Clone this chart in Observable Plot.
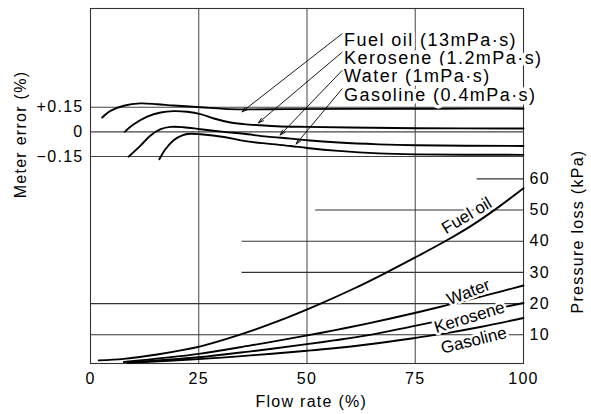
<!DOCTYPE html>
<html><head><meta charset="utf-8">
<script src="https://cdn.jsdelivr.net/npm/d3@7"></script>
<script src="https://cdn.jsdelivr.net/npm/@observablehq/plot@0.6"></script>
<style>
body{margin:0;background:#fff;}
#chart svg{display:block;}
</style>
</head><body><div id="chart"></div>
<script>
// ---- Meter error curves (%), x = flow rate (%)
const errFlowFuel = [2.7, 4.6, 7.7, 11.5, 15.4, 19.2, 25.4, 30.8, 35.4, 45, 60, 80, 100];
const errFuel     = [0.087, 0.128, 0.159, 0.173, 0.168, 0.160, 0.150, 0.140, 0.137, 0.138, 0.140, 0.141, 0.141];
const errFlowKero = [7.9, 10, 13.1, 16.2, 19.2, 22.3, 25.4, 28.5, 32.3, 35.4, 39.2, 43, 50, 60, 75, 100];
const errKero     = [0.0, 0.046, 0.093, 0.118, 0.126, 0.122, 0.108, 0.081, 0.057, 0.047, 0.040, 0.034, 0.030, 0.026, 0.022, 0.020];
const errFlowWater = [8.8, 11.5, 13.8, 16.2, 18.5, 21.5, 25.4, 30.8, 35.4, 40.8, 46.2, 50, 57.3, 66.5, 75, 100];
const errWater     = [-0.151, -0.085, -0.024, 0.016, 0.030, 0.028, 0.016, 0.0, -0.012, -0.029, -0.041, -0.051, -0.065, -0.076, -0.082, -0.086];
const errFlowGas = [15.9, 17.3, 19.2, 21.2, 23.1, 25.4, 30.8, 35.4, 40.8, 46.2, 50, 57.3, 66.5, 75, 100];
const errGas     = [-0.167, -0.106, -0.051, -0.021, -0.012, -0.015, -0.031, -0.055, -0.072, -0.086, -0.098, -0.116, -0.131, -0.137, -0.140];

// ---- Pressure loss curves (kPa)
const pFlowFuel = [1.9, 7.7, 15.4, 25.4, 34, 43, 52.5, 60.5, 68.1, 75, 82.3, 88, 93.1, 100];
const pFuel     = [1.8, 2.3, 3.7, 6.3, 9.8, 14.2, 19.6, 24.6, 29.8, 34.8, 40.3, 45.0, 49.8, 57];
const pFlowWater = [7.7, 25, 37, 48.5, 56.2, 63.9, 74.6, 82.3, 91.5, 100];
const pWater     = [1.3, 3.9, 6.6, 9.4, 11.4, 13.6, 16.9, 19.5, 22.7, 25.8];
const pFlowKero = [8.5, 25, 37, 50, 56.2, 63.9, 74.6, 84, 94.2, 100];
const pKero     = [1.1, 2.8, 4.7, 7.0, 8.2, 9.8, 12.8, 15.5, 18.5, 20.2];
const pFlowGas = [9, 25, 37, 50, 56.2, 63.9, 74.6, 80.8, 90, 100];
const pGas     = [1.0, 2.2, 3.4, 4.9, 5.7, 6.9, 8.9, 10.2, 12.5, 15.4];

// ---- Axes / ticks
const xTicks = [0, 25, 50, 75, 100];
const errTicks = [0.15, 0, -0.15];
const errTickLabels = ["+0.15", "0", "\u22120.15"];
const pressTicks = [10, 20, 30, 40, 50, 60];
const pressGridStart = [0, 0, 35, 35, 52, 89.3];
const xGrid = [25, 50, 75];

// ---- Labels
const legendNames = ["Fuel oil (13mPa\u00b7s)", "Kerosene (1.2mPa\u00b7s)", "Water (1mPa\u00b7s)", "Gasoline (0.4mPa\u00b7s)"];
const legendX = [58.1, 58.1, 58.1, 58.1];
const legendErr = [0.597, 0.484, 0.373, 0.262];
const arrowTipX = [35.0, 38.8, 43.8, 47.5];
const arrowTipErr = [0.122, 0.055, -0.019, -0.074];

const curveLabelNames = ["Fuel oil", "Water", "Kerosene", "Gasoline"];
const curveLabelX = [86.9, 87.3, 87.5, 88.5];
const curveLabelP = [48.2, 23.7, 15.6, 8.2];
const curveLabelAngle = [-31, -21, -17, -14];

// error (%) placed on the shared vertical scale (upper part of the chart)
const toP = e => 75.06 + e * 52.67;

const zip = (name, xs, ys) => xs.map((x, i) => ({fluid: name, x, v: ys[i]}));
const errRows = [
  ...zip("Fuel oil", errFlowFuel, errFuel),
  ...zip("Kerosene", errFlowKero, errKero),
  ...zip("Water", errFlowWater, errWater),
  ...zip("Gasoline", errFlowGas, errGas)
];
const pRows = [
  ...zip("Fuel oil", pFlowFuel, pFuel),
  ...zip("Water", pFlowWater, pWater),
  ...zip("Kerosene", pFlowKero, pKero),
  ...zip("Gasoline", pFlowGas, pGas)
];
const pressGrid = pressTicks.map((p, i) => ({p, from: pressGridStart[i]}));
const legendRows = legendNames.map((t, i) => ({t, x: legendX[i], e: legendErr[i], tx: arrowTipX[i], te: arrowTipErr[i]}));
const curveLabels = curveLabelNames.map((t, i) => ({t, x: curveLabelX[i], p: curveLabelP[i], r: curveLabelAngle[i]}));
const errTickP = errTicks.map(toP);

const font = "'Liberation Sans', Arial, Helvetica, sans-serif";

const chart = Plot.plot({
  width: 591, height: 414,
  marginLeft: 90, marginRight: 68, marginTop: 8, marginBottom: 51,
  x: {domain: [0, 100]},
  y: {domain: [0.8, 114.6]},
  style: {fontFamily: font, fontSize: "16px", color: "#000", background: "#fff"},
  marks: [
    Plot.ruleX(xGrid, {stroke: "#555", strokeWidth: 1.1}),
    Plot.ruleY(errTicks, {y: d => toP(d), stroke: "#444", strokeWidth: 1.1}),
    Plot.ruleY(pressGrid, {y: "p", x1: "from", x2: 100, stroke: "#333", strokeWidth: 1.1}),
    Plot.frame({stroke: "#333", strokeWidth: 1.1}),
    Plot.line(errRows, {x: "x", y: d => toP(d.v), z: "fluid", curve: "catmull-rom", stroke: "#000", strokeWidth: 1.9}),
    Plot.line(pRows, {x: "x", y: "v", z: "fluid", curve: "catmull-rom", stroke: "#000", strokeWidth: 1.9}),
    Plot.text(curveLabels, {x: "x", y: "p", text: "t", rotate: "r", fontSize: 17, fill: "#000", stroke: "#fff", strokeWidth: 5}),
    Plot.text(legendRows, {x: "x", y: d => toP(d.e), text: "t", textAnchor: "start", dx: 2, dy: 6, fontSize: 18, fill: "#000", stroke: "#fff", strokeWidth: 7}),
    Plot.arrow(legendRows, {x1: "x", y1: d => toP(d.e), x2: "tx", y2: d => toP(d.te), stroke: "#000", strokeWidth: 0.9, headLength: 9, headAngle: 35}),
    Plot.axisX({ticks: xTicks, tickSize: 0, tickPadding: 9, label: null}),
    Plot.axisY({ticks: errTickP, anchor: "left", tickSize: 0, tickPadding: 7, label: null,
      tickFormat: d => errTickLabels[errTickP.findIndex(v => Math.abs(v - d) < 1e-6)]}),
    Plot.axisY({ticks: pressTicks, anchor: "right", tickSize: 0, tickPadding: 6, label: null}),
    Plot.text(["Flow rate (%)"], {frameAnchor: "bottom", x: 51, dy: 38, lineAnchor: "middle", textAnchor: "middle", text: d => d, fontSize: 16}),
    Plot.text(["Meter error (%)"], {frameAnchor: "left", y: 74.2, dx: -70, rotate: -90, textAnchor: "middle", lineAnchor: "middle", text: d => d, fontSize: 16}),
    Plot.text(["Pressure loss (kPa)"], {frameAnchor: "right", y: 43.1, dx: 54, rotate: -90, textAnchor: "middle", lineAnchor: "middle", text: d => d, fontSize: 16})
  ]
});

// slightly wide lettering like the reference (not on the in-plot curve labels)
chart.querySelectorAll("text").forEach(t => {
  if (!curveLabelNames.includes(t.textContent)) t.style.letterSpacing = "0.08em";
});
document.getElementById("chart").appendChild(chart);
</script>
</body></html>
